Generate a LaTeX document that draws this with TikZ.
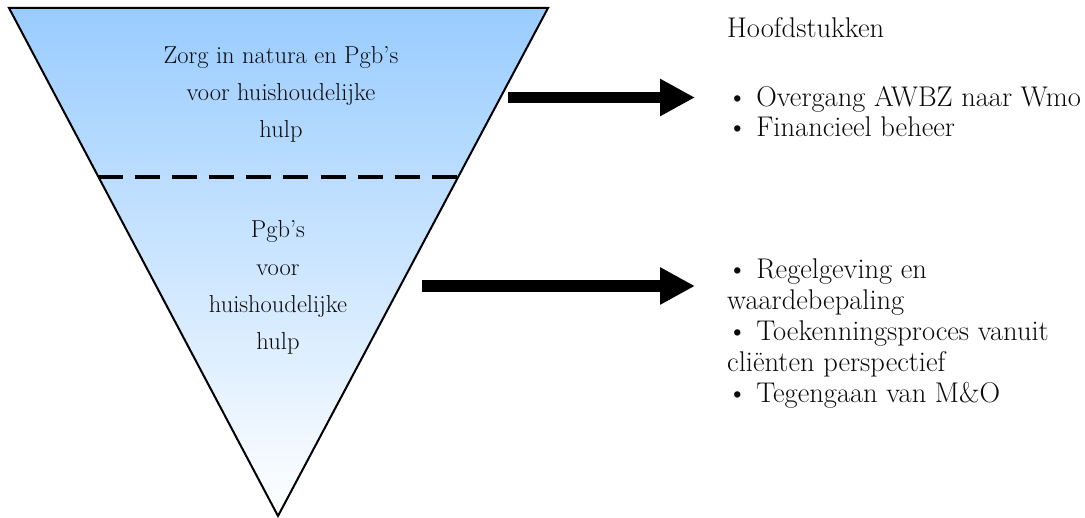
\documentclass[tikz,border=0pt]{standalone}
\usetikzlibrary{arrows.meta,calc}
\definecolor{funneltop}{RGB}{153,204,255}
\definecolor{inktext}{RGB}{10,10,10}
\begin{document}
\begin{tikzpicture}[x=1pt,y=-1pt,
  tritext/.style={font=\fontsize{24.5}{29}\selectfont, text=inktext, inner sep=0pt, anchor=base},
  listtext/.style={font=\fontsize{28.5}{32}\selectfont, text=inktext, inner sep=0pt, anchor=base west},
  bigarrow/.style={line width=11.5pt, -{Triangle[length=35pt,width=35pt]}},
  funnel/.style={line width=2pt, draw=black, top color=funneltop, bottom color=white},
  divider/.style={line width=4.5pt, dash pattern=on 25pt off 12pt}]
\useasboundingbox (0,0) rectangle (1085,518);
% funnel
\coordinate (tl) at (9,8);
\coordinate (tr) at (548,8);
\coordinate (ap) at (278,516);
\path[funnel] (tl) -- (tr) -- (ap) -- cycle;
\coordinate (dl) at ($(tl)!0.3327!(ap)$);
\coordinate (dr) at ($(tr)!0.3327!(ap)$);
\draw[divider] (dl) -- (dr);
% upper text
\node[tritext] (u1) at (281,64) {Zorg in natura en Pgb's};
\node[tritext] (u2) at (281,101) {voor huishoudelijke};
\node[tritext] (u3) at (281,138) {hulp};
% lower text
\node[tritext] (d1) at (278,238) {Pgb's};
\node[tritext] (d2) at (278,276) {voor};
\node[tritext] (d3) at (278,313) {huishoudelijke};
\node[tritext] (d4) at (278,350) {hulp};
% right column
\node[listtext] (hd) at (727,38) {Hoofdstukken};
\node[listtext] (b1) at (727,107) {\textbullet\ Overgang AWBZ naar Wmo};
\node[listtext] (b2) at (727,137) {\textbullet\ Financieel beheer};
\node[listtext] (c1) at (727,279) {\textbullet\ Regelgeving en};
\node[listtext] (c2) at (727,310) {waardebepaling};
\node[listtext] (c3) at (727,341) {\textbullet\ Toekenningsproces vanuit};
\node[listtext] (c4) at (727,372) {cliënten perspectief};
\node[listtext] (c5) at (727,403) {\textbullet\ Tegengaan van M\&O};
% arrows
\coordinate (a1s) at (508,97.5);
\coordinate (a1e) at (695,97.5);
\coordinate (a2s) at (422,286);
\coordinate (a2e) at (695,286);
\draw[bigarrow] (a1s) -- (a1e);
\draw[bigarrow] (a2s) -- (a2e);
\end{tikzpicture}
\end{document}
